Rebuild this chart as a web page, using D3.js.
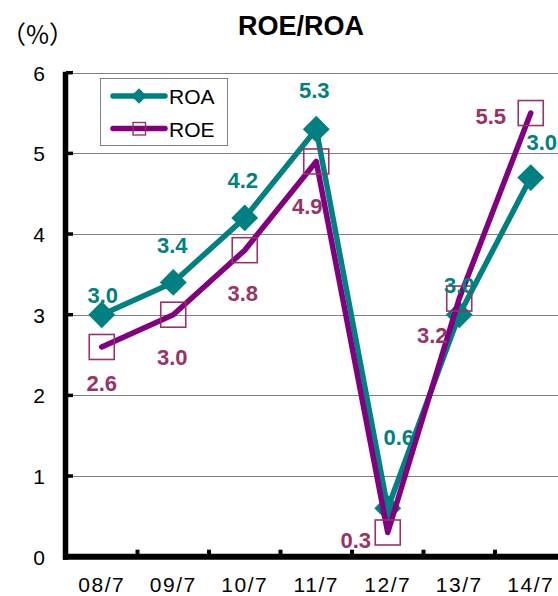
<!DOCTYPE html>
<html>
<head>
<meta charset="utf-8">
<script src="https://cdn.jsdelivr.net/npm/d3@7/dist/d3.min.js"></script>
<style>
  html, body { margin: 0; padding: 0; background: #fff; }
  svg { display: block; }
</style>
</head>
<body>
<svg id="chart" width="558" height="596"></svg>
<script>
// ---- data ----
const categories = ["08/7", "09/7", "10/7", "11/7", "12/7", "13/7", "14/7"];
const roaValues = [3.0, 3.4, 4.2, 5.3, 0.6, 3.0, 4.7];
const roeValues = [2.6, 3.0, 3.8, 4.9, 0.3, 3.2, 5.5];
const roaLabels = ["3.0", "3.4", "4.2", "5.3", "0.6", "3.0", "3.0"];
const roeLabels = ["2.6", "3.0", "3.8", "4.9", "0.3", "3.2", "5.5"];
const yTicks = [0, 1, 2, 3, 4, 5, 6];

// ---- layout (label offsets relative to points) ----
const roaLabelOffsets = [[1, -20], [-1, -37], [-2, -38], [-2, -39], [11, -71], [0, -30], [11, -35]];
const roeLabelOffsets = [[0, 36], [-1, 42], [-2, 43], [-9, 45], [-32, 8], [-27, 37], [-40, 3]];

const teal = "#008080", purple = "#800080", roeText = "#993366";

const svg = d3.select("#chart");
const left = 66, bandW = 71.5;
const x = d3.scaleBand().domain(categories).range([left, left + bandW * categories.length]).padding(0);
const y = d3.scaleLinear().domain([0, 6]).range([556.7, 72.7]);
const cx = d => x(d) + x.bandwidth() / 2;

// gridlines
svg.append("g").selectAll("line").data(yTicks.filter(t => t > 0)).join("line")
  .attr("x1", left).attr("x2", 558)
  .attr("y1", d => Math.round(y(d)) + 0.5).attr("y2", d => Math.round(y(d)) + 0.5)
  .attr("stroke", "#808080").attr("stroke-width", 1.2);

// y axis labels via d3 axis
const yAxis = svg.append("g").attr("transform", `translate(${left},0)`)
  .call(d3.axisLeft(y).tickValues(yTicks).tickSize(0).tickPadding(21).tickFormat(d3.format("d")));
yAxis.select(".domain").remove();
yAxis.selectAll("text").attr("font-family", "Liberation Sans, Arial, sans-serif")
  .attr("font-size", 21).attr("fill", "#000").attr("dy", "0.36em");

// y tick stubs (inside)
svg.append("g").selectAll("line").data(yTicks).join("line")
  .attr("x1", left).attr("x2", left + 7)
  .attr("y1", d => y(d)).attr("y2", d => y(d))
  .attr("stroke", "#000").attr("stroke-width", 3.5);

// x axis labels via d3 axis
const xAxis = svg.append("g").attr("transform", `translate(0,${y(0)})`)
  .call(d3.axisBottom(x).tickSize(0).tickPadding(0));
xAxis.select(".domain").remove();
xAxis.selectAll("text").attr("font-family", "Liberation Sans, Arial, sans-serif")
  .attr("font-size", 21).attr("fill", "#000").attr("letter-spacing", "1.5px")
  .attr("dy", null).attr("y", 35.5);

// x tick stubs at band boundaries
svg.append("g").selectAll("line").data(categories.slice(1)).join("line")
  .attr("x1", d => x(d)).attr("x2", d => x(d))
  .attr("y1", y(0)).attr("y2", y(0) - 7)
  .attr("stroke", "#000").attr("stroke-width", 4);

// axis lines
svg.append("line").attr("x1", left - 0.5).attr("x2", left - 0.5).attr("y1", y(6) - 1).attr("y2", y(0) + 3)
  .attr("stroke", "#000").attr("stroke-width", 5.5);
svg.append("line").attr("x1", left - 3).attr("x2", 558).attr("y1", y(0)).attr("y2", y(0))
  .attr("stroke", "#000").attr("stroke-width", 6);

const line = d3.line().x((d, i) => cx(categories[i])).y(d => y(d));

// ROA series
svg.append("path").datum(roaValues).attr("d", line)
  .attr("fill", "none").attr("stroke", teal).attr("stroke-width", 5.5)
  .attr("stroke-linejoin", "round").attr("stroke-linecap", "round");
const diamond = d3.symbol().type(d3.symbolSquare).size(19 * 19);
svg.append("g").selectAll("path").data(roaValues).join("path")
  .attr("d", diamond)
  .attr("transform", (d, i) => `translate(${cx(categories[i])},${y(d)}) rotate(45)`)
  .attr("fill", teal);

// ROE series
svg.append("path").datum(roeValues).attr("d", line)
  .attr("fill", "none").attr("stroke", purple).attr("stroke-width", 5.5)
  .attr("stroke-linejoin", "round").attr("stroke-linecap", "round");
svg.append("g").selectAll("rect").data(roeValues).join("rect")
  .attr("x", (d, i) => cx(categories[i]) - 12.5).attr("y", d => y(d) - 12.5)
  .attr("width", 25).attr("height", 25)
  .attr("fill", "none").attr("stroke", roeText).attr("stroke-width", 1.6);

// data labels
const labelFont = "Liberation Sans, Arial, sans-serif";
svg.append("g").selectAll("text").data(roaValues).join("text")
  .attr("x", (d, i) => cx(categories[i]) + roaLabelOffsets[i][0])
  .attr("y", (d, i) => y(d) + roaLabelOffsets[i][1])
  .attr("dy", "0.36em").attr("text-anchor", "middle")
  .attr("font-family", labelFont).attr("font-weight", "bold").attr("font-size", 22)
  .attr("fill", teal).text((d, i) => roaLabels[i]);
svg.append("g").selectAll("text").data(roeValues).join("text")
  .attr("x", (d, i) => cx(categories[i]) + roeLabelOffsets[i][0])
  .attr("y", (d, i) => y(d) + roeLabelOffsets[i][1])
  .attr("dy", "0.36em").attr("text-anchor", "middle")
  .attr("font-family", labelFont).attr("font-weight", "bold").attr("font-size", 22)
  .attr("fill", roeText).text((d, i) => roeLabels[i]);

// legend
const lg = svg.append("g");
lg.append("rect").attr("x", 100.5).attr("y", 78.5).attr("width", 127).attr("height", 67)
  .attr("fill", "#fff").attr("stroke", "#808080").attr("stroke-width", 1);
lg.append("line").attr("x1", 113).attr("x2", 165).attr("y1", 96).attr("y2", 96)
  .attr("stroke", teal).attr("stroke-width", 5.5).attr("stroke-linecap", "round");
lg.append("path").attr("d", d3.symbol().type(d3.symbolSquare).size(11 * 11))
  .attr("transform", "translate(139,96) rotate(45)").attr("fill", teal);
lg.append("line").attr("x1", 113).attr("x2", 165).attr("y1", 128.5).attr("y2", 128.5)
  .attr("stroke", purple).attr("stroke-width", 5.5).attr("stroke-linecap", "round");
lg.append("rect").attr("x", 133).attr("y", 122.5).attr("width", 12.5).attr("height", 12.5)
  .attr("fill", "none").attr("stroke", roeText).attr("stroke-width", 1.4);
lg.append("text").attr("x", 169).attr("y", 103.5).attr("font-family", labelFont)
  .attr("font-size", 21).attr("fill", "#000").text("ROA");
lg.append("text").attr("x", 169).attr("y", 137).attr("font-family", labelFont)
  .attr("font-size", 21).attr("fill", "#000").text("ROE");

// title and unit
svg.append("text").attr("x", 301).attr("y", 35).attr("text-anchor", "middle")
  .attr("font-family", labelFont).attr("font-weight", "bold").attr("font-size", 27)
  .attr("fill", "#000").text("ROE/ROA");
svg.append("text").attr("x", 37.5).attr("y", 44).attr("text-anchor", "middle")
  .attr("font-family", "Noto Sans CJK JP, sans-serif").attr("font-size", 25)
  .attr("fill", "#000").text("（%）");
</script>
</body>
</html>
